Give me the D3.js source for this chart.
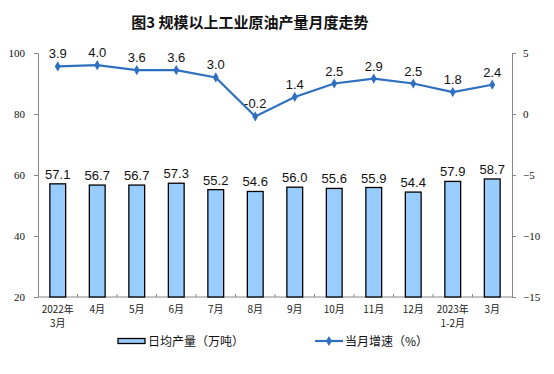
<!DOCTYPE html>
<html>
<head>
<meta charset="utf-8">
<script src="https://cdn.jsdelivr.net/npm/d3@7"></script>
<style>
  body { margin: 0; background: #fff; }
  svg { display: block; }
</style>
</head>
<body>
<svg id="chart" width="554" height="374"></svg>
<script>
// data
const months = ["2022年\n3月", "4月", "5月", "6月", "7月", "8月", "9月", "10月", "11月", "12月", "2023年\n1-2月", "3月"];
const dailyOutput = [57.1, 56.7, 56.7, 57.3, 55.2, 54.6, 56.0, 55.6, 55.9, 54.4, 57.9, 58.7];
const growth = [3.9, 4.0, 3.6, 3.6, 3.0, -0.2, 1.4, 2.5, 2.9, 2.5, 1.8, 2.4];
const leftTicks = [20, 40, 60, 80, 100];
const rightTicks = [-15, -10, -5, 0, 5];

const svg = d3.select("#chart");
const x0 = 38, x1 = 512, yTop = 53, yBot = 297;
const axisColor = "#888";
const lineColor = "#2f6fbf";

const x = d3.scaleBand().domain(months).range([x0, x1]).paddingInner(0.6).paddingOuter(0.3);
const yL = d3.scaleLinear().domain([20, 100]).range([yBot, yTop]);
const yR = d3.scaleLinear().domain([-15, 5]).range([yBot, yTop]);

// title
svg.append("text")
    .attr("x", 250).attr("y", 28)
    .attr("text-anchor", "middle")
    .attr("font-family", "'Noto Sans CJK SC', sans-serif")
    .attr("font-size", "15px").attr("font-weight", "bold")
    .attr("fill", "#111")
    .text("图3  规模以上工业原油产量月度走势");

// left axis
const gL = svg.append("g").attr("transform", `translate(${x0},0)`)
    .call(d3.axisLeft(yL).tickValues(leftTicks).tickSize(4).tickPadding(9));
// right axis
const gR = svg.append("g").attr("transform", `translate(${x1},0)`)
    .call(d3.axisRight(yR).tickValues(rightTicks).tickSize(4).tickPadding(7));
[gL, gR].forEach(g => {
    g.select(".domain").attr("stroke", axisColor);
    g.selectAll(".tick line").attr("stroke", axisColor);
    g.selectAll(".tick text")
        .attr("font-family", "'Liberation Serif', 'Times New Roman', serif")
        .attr("font-size", "11px").attr("fill", "#111");
});

// bottom axis line and boundary ticks
svg.append("line")
    .attr("x1", x0).attr("x2", x1).attr("y1", yBot).attr("y2", yBot)
    .attr("stroke", axisColor);
const step = x.step();
svg.selectAll(".xtick")
    .data(months.slice(1))
    .enter().append("line")
    .attr("class", "xtick")
    .attr("x1", d => x(d) - x.paddingInner() * step / 2)
    .attr("x2", d => x(d) - x.paddingInner() * step / 2)
    .attr("y1", yBot).attr("y2", yBot - 3)
    .attr("stroke", axisColor);

// x labels, one text per line
const xLines = [];
months.forEach(m => m.split("\n").forEach((p, i) => xLines.push({m, p, i})));
svg.selectAll(".xlab")
    .data(xLines)
    .enter().append("text")
    .attr("class", "xlab")
    .attr("x", d => x(d.m) + x.bandwidth() / 2)
    .attr("y", d => 312.5 + d.i * 14.5)
    .attr("text-anchor", "middle")
    .attr("font-family", "'Noto Sans CJK SC', sans-serif")
    .attr("font-size", "10px").attr("fill", "#222")
    .text(d => d.p);

// bars
svg.selectAll(".bar")
    .data(dailyOutput)
    .enter().append("rect")
    .attr("class", "bar")
    .attr("x", (d, i) => x(months[i]))
    .attr("width", x.bandwidth())
    .attr("y", d => yL(d))
    .attr("height", d => yBot - yL(d))
    .attr("fill", "#99ccff")
    .attr("stroke", "#000").attr("stroke-width", 1.3);

svg.selectAll(".barlab")
    .data(dailyOutput)
    .enter().append("text")
    .attr("class", "barlab")
    .attr("x", (d, i) => x(months[i]) + x.bandwidth() / 2)
    .attr("y", d => yL(d) - 5)
    .attr("text-anchor", "middle")
    .attr("font-family", "'Liberation Sans', Arial, sans-serif")
    .attr("font-size", "13px").attr("fill", "#111")
    .text(d => d.toFixed(1));

// growth line
const cx = i => x(months[i]) + x.bandwidth() / 2;
const line = d3.line().x((d, i) => cx(i)).y(d => yR(d));
svg.append("path")
    .datum(growth)
    .attr("d", line)
    .attr("fill", "none")
    .attr("stroke", lineColor).attr("stroke-width", 2.2);

const diamond = d3.symbol().type(d3.symbolDiamond).size(30);
svg.selectAll(".pt")
    .data(growth)
    .enter().append("path")
    .attr("class", "pt")
    .attr("transform", (d, i) => `translate(${cx(i)},${yR(d)})`)
    .attr("d", diamond)
    .attr("fill", lineColor);

svg.selectAll(".ptlab")
    .data(growth)
    .enter().append("text")
    .attr("class", "ptlab")
    .attr("x", (d, i) => cx(i))
    .attr("y", d => yR(d) - 8)
    .attr("text-anchor", "middle")
    .attr("font-family", "'Liberation Sans', Arial, sans-serif")
    .attr("font-size", "13px").attr("fill", "#111")
    .text(d => d.toFixed(1));

// legend
const legend = svg.append("g").attr("font-family", "'Noto Sans CJK SC', sans-serif")
    .attr("font-size", "12px").attr("fill", "#111");
legend.append("rect")
    .attr("x", 118).attr("y", 338.5).attr("width", 27).attr("height", 5)
    .attr("fill", "#99ccff").attr("stroke", "#000").attr("stroke-width", 1.3);
legend.append("text").attr("x", 148).attr("y", 346).text("日均产量（万吨）");
legend.append("line")
    .attr("x1", 315).attr("x2", 343).attr("y1", 341).attr("y2", 341)
    .attr("stroke", lineColor).attr("stroke-width", 2.2);
legend.append("path")
    .attr("transform", "translate(329,341)")
    .attr("d", diamond).attr("fill", lineColor);
legend.append("text").attr("x", 345).attr("y", 346).text("当月增速（%）");
</script>
</body>
</html>
